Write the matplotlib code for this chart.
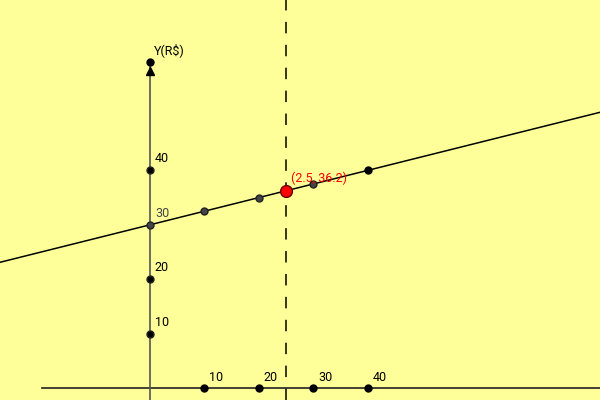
import numpy as np
import matplotlib
matplotlib.use('Agg')
import matplotlib.pyplot as plt

# Data
x_ticks = [1, 2, 3, 4]
x_labels = ['10', '20', '30', '40']
y_ticks = [10, 20, 30, 40]
y_labels = ['10', '20', '30', '40']
y_top = 60
intercept = 30
slope = 2.5
line_pts_x = [1, 2, 3]
red_x = 2.5
red_y = intercept + slope * red_x
red_label = '(2.5, 36.2)'
y_axis_label = 'Y(R$)'

bg = '#FFFF99'
plt.rcParams['font.family'] = ['Roboto', 'DejaVu Sans']

fig = plt.figure(figsize=(6, 4), dpi=100)
fig.patch.set_facecolor(bg)
ax = fig.add_axes([0, 0, 1, 1])
ax.set_facecolor(bg)
ax.axis('off')

# pixel scale: origin at (150, 388), 1 x-unit = 54.4 px, 10 y-units = 54.4 px
px = 54.4
ax.set_xlim(-150 / px, 450 / px)
ax.set_ylim(-12 / px * 10, 388 / px * 10)

# axes
ax.plot([-108 / px, 450 / px], [0, 0], color='#222222', lw=1.2, zorder=1)
ax.plot([0, 0], [-12 / px * 10, y_top], color='#555555', lw=1.2, zorder=1)
ax.plot([0], [y_top - 1.75], marker='^', ms=6, color='black', zorder=3)
ax.plot([0], [y_top], 'o', ms=5, color='black', zorder=4)
ax.text(0.07, y_top + 2.2, y_axis_label, fontsize=9, va='center', ha='left')

# fitted line
xs = np.array(ax.get_xlim())
ax.plot(xs, intercept + slope * xs, color='black', lw=1.1, zorder=2)

# dashed vertical line
ax.axvline(red_x, color='black', lw=1.1, ls=(0, (7.5, 7.5)), zorder=1)

# y-axis points
for yv, lab in zip(y_ticks, y_labels):
    c = '#444444' if yv == intercept else 'black'
    ax.plot([0], [yv], 'o', ms=5, color=c, mec='#222222', zorder=4)
    ax.text(0.09, yv + 2.1, lab, fontsize=9, color=c, va='center', ha='left')

# x-axis points
for xv, lab in zip(x_ticks, x_labels):
    ax.plot([xv], [0], 'o', ms=5, color='black', zorder=4)
    ax.text(xv + 0.09, 1.9, lab, fontsize=9, va='center', ha='left')

# points on the line
ax.plot(line_pts_x, [intercept + slope * v for v in line_pts_x], 'o', ms=5,
        color='#444444', mec='#222222', zorder=4)
ax.plot([4], [intercept + slope * 4], 'o', ms=5, color='black', zorder=4)

# red point
ax.plot([red_x], [red_y], 'o', ms=8.5, color='#FF0000', mec='#660000', mew=1, zorder=5)
ax.text(red_x + 0.1, red_y + 2.3, red_label, fontsize=9, color='#FF0000',
        va='center', ha='left', zorder=6)

fig.savefig('out.png', dpi=100, facecolor=bg)
